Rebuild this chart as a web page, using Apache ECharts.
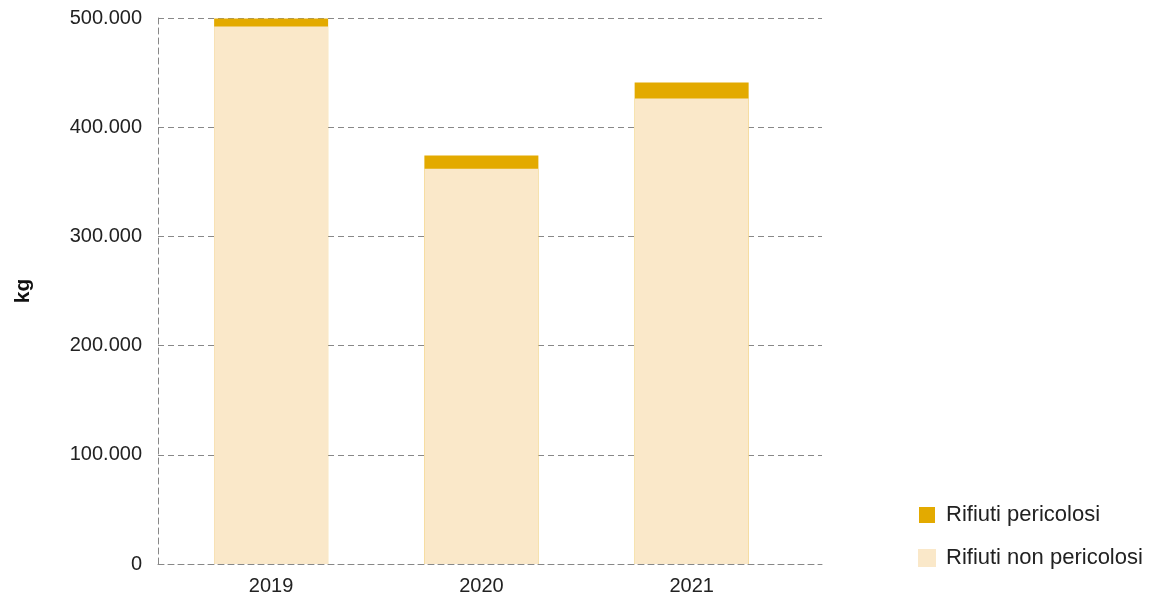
<!DOCTYPE html>
<html>
<head>
<meta charset="utf-8">
<script src="https://cdn.jsdelivr.net/npm/echarts@6/dist/echarts.min.js"></script>
<style>html,body{margin:0;padding:0;background:#fff}#c{width:1152px;height:596px}</style>
</head>
<body>
<div id="c"></div>
<script>
const years = [2019, 2020, 2021];
const nonPericolosi = [492200, 362000, 426200];
const pericolosi = [7300, 12000, 14700];
const seriesNames = ['Rifiuti pericolosi', 'Rifiuti non pericolosi'];
const yTicks = [0, 100000, 200000, 300000, 400000, 500000];

const fmt = v => v === 0 ? '0' : String(v).replace(/\B(?=(\d{3})+(?!\d))/g, '.');
const font = '"Liberation Sans", Arial, sans-serif';
// top of each stacked column = non pericolosi + pericolosi
const totals = years.map((y, i) => nonPericolosi[i] + pericolosi[i]);
const colPer = '#E3AA00', colNon = '#FAE8C9';

const chart = echarts.init(document.getElementById('c'), null, {renderer: 'canvas'});
chart.setOption({
  animation: false,
  grid: {left: 158, right: 330, top: 18, bottom: 32},
  legend: {
    orient: 'vertical', left: 918, top: 504, padding: 0,
    itemWidth: 16, itemHeight: 16, itemGap: 21,
    data: seriesNames,
    textStyle: {fontSize: 22, color: '#222', fontFamily: font, padding: [0, 0, 0, 6]},
    icon: 'rect'
  },
  xAxis: {
    type: 'value',
    min: 2018.462, max: 2021.62,
    splitLine: {show: false},
    axisTick: {show: false},
    axisLine: {show: true, lineStyle: {color: '#888', type: [6, 4], width: 1}},
    axisLabel: {customValues: years, fontSize: 20, color: '#222', fontFamily: font, margin: 12,
      formatter: v => String(v)}
  },
  yAxis: {
    type: 'value', min: 0, max: 500000, interval: 100000,
    name: 'kg', nameLocation: 'middle', nameRotate: 90, nameGap: 124,
    nameTextStyle: {fontSize: 21, fontWeight: 'bold', color: '#111', fontFamily: font},
    axisLine: {show: true, lineStyle: {color: '#888', type: [6, 4], width: 1}},
    axisTick: {show: false},
    splitLine: {show: true, lineStyle: {color: '#888', type: [6, 4], width: 1}},
    axisLabel: {fontSize: 20, color: '#222', fontFamily: font, margin: 16, formatter: fmt}
  },
  series: [
    {name: seriesNames[0], type: 'bar', barWidth: 114, barGap: '-100%', z: 2,
      itemStyle: {color: colPer},
      data: years.map((y, i) => [y, totals[i]])},
    {name: seriesNames[1], type: 'bar', barWidth: 114, barGap: '-100%', z: 3,
      itemStyle: {color: colNon, borderColor: colNon, borderWidth: 2},
      data: years.map((y, i) => [y, nonPericolosi[i]])}
  ]
});
</script>
</body>
</html>
